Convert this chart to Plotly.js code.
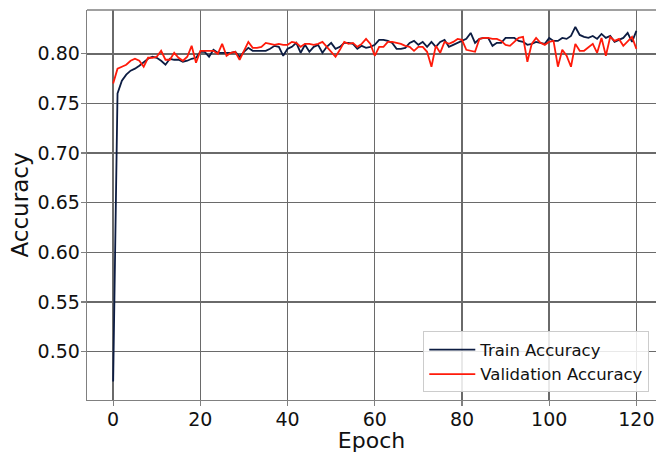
<!DOCTYPE html>
<html>
<head>
<meta charset="utf-8">
<script src="https://cdn.plot.ly/plotly-3.0.1.min.js"></script>
<style>html,body{margin:0;padding:0;background:#fff;}#chart{width:656px;height:453px;}</style>
</head>
<body>
<div id="chart"></div>
<script>
const epochs = Array.from({length: 121}, (_, i) => i);

const trainAccuracy = [
  0.470, 0.760, 0.773, 0.779, 0.783, 0.785, 0.788, 0.792, 0.795, 0.797,
  0.796, 0.793, 0.789, 0.795, 0.794, 0.794, 0.792, 0.793, 0.795, 0.796,
  0.802, 0.802, 0.797, 0.804, 0.801, 0.801, 0.801, 0.801, 0.802, 0.797,
  0.802, 0.806, 0.803, 0.803, 0.803, 0.803, 0.805, 0.808, 0.807, 0.798,
  0.805, 0.807, 0.811, 0.801, 0.809, 0.802, 0.807, 0.809, 0.801, 0.807,
  0.811, 0.805, 0.807, 0.811, 0.811, 0.810, 0.805, 0.808, 0.806, 0.807,
  0.809, 0.814, 0.814, 0.813, 0.811, 0.805, 0.805, 0.806, 0.811, 0.813,
  0.809, 0.812, 0.807, 0.812, 0.807, 0.812, 0.814, 0.807, 0.809, 0.811,
  0.813, 0.815, 0.821, 0.811, 0.815, 0.816, 0.816, 0.808, 0.811, 0.811,
  0.816, 0.816, 0.816, 0.813, 0.812, 0.809, 0.810, 0.812, 0.811, 0.810,
  0.816, 0.813, 0.813, 0.816, 0.815, 0.818, 0.827, 0.819, 0.817, 0.816,
  0.818, 0.815, 0.820, 0.816, 0.818, 0.812, 0.814, 0.816, 0.821, 0.812,
  0.823
];

const validationAccuracy = [
  0.770, 0.785, 0.787, 0.789, 0.793, 0.795, 0.793, 0.787, 0.796, 0.796,
  0.797, 0.803, 0.794, 0.794, 0.801, 0.796, 0.793, 0.797, 0.808, 0.791,
  0.803, 0.803, 0.803, 0.803, 0.800, 0.810, 0.798, 0.801, 0.802, 0.794,
  0.803, 0.812, 0.806, 0.806, 0.807, 0.811, 0.810, 0.809, 0.810, 0.809,
  0.809, 0.812, 0.811, 0.807, 0.810, 0.810, 0.809, 0.810, 0.812, 0.807,
  0.802, 0.797, 0.804, 0.812, 0.810, 0.811, 0.807, 0.810, 0.815, 0.810,
  0.798, 0.807, 0.807, 0.812, 0.812, 0.811, 0.810, 0.808, 0.807, 0.803,
  0.807, 0.807, 0.802, 0.787, 0.808, 0.801, 0.812, 0.810, 0.812, 0.815,
  0.814, 0.804, 0.803, 0.802, 0.815, 0.816, 0.816, 0.815, 0.815, 0.813,
  0.809, 0.808, 0.812, 0.816, 0.817, 0.792, 0.810, 0.816, 0.811, 0.809,
  0.812, 0.813, 0.787, 0.804, 0.798, 0.787, 0.810, 0.803, 0.803, 0.807,
  0.810, 0.801, 0.816, 0.798, 0.817, 0.813, 0.815, 0.808, 0.813, 0.817,
  0.805
];

const seriesNames = ['Train Accuracy', 'Validation Accuracy'];
const xTickValues = [0, 20, 40, 60, 80, 100, 120];
const yTickValues = [0.50, 0.55, 0.60, 0.65, 0.70, 0.75, 0.80];

const font = 'DejaVu Sans, Verdana, sans-serif';

const traces = [
  {x: epochs, y: trainAccuracy, name: seriesNames[0], type: 'scatter', mode: 'lines',
   line: {color: '#0c1c42', width: 1.8}},
  {x: epochs, y: validationAccuracy, name: seriesNames[1], type: 'scatter', mode: 'lines',
   line: {color: '#ff1a0a', width: 1.8}}
];

const layout = {
  width: 656, height: 453,
  margin: {l: 87, r: 0, t: 10, b: 53},
  paper_bgcolor: '#ffffff', plot_bgcolor: '#ffffff',
  font: {family: font, color: '#111', size: 18},
  showlegend: true,
  legend: {
    x: 0.591, y: 0.176, xanchor: 'left', yanchor: 'top',
    itemwidth: 46,
    bgcolor: 'rgba(255,255,255,0.85)', bordercolor: '#cccccc', borderwidth: 1,
    font: {family: font, size: 16.5, color: '#111'}
  },
  xaxis: {
    range: [-6, 124.5], tickvals: xTickValues, ticktext: xTickValues.map(String),
    showgrid: true, gridcolor: '#6a6a6a', gridwidth: 1.4,
    zeroline: false, showline: true, linecolor: '#808080', linewidth: 1.3, mirror: false,
    ticks: 'outside', ticklen: 5, tickcolor: '#808080', tickwidth: 1.3,
    ticklabelstandoff: -3,
    tickfont: {family: font, size: 19, color: '#111'},
    title: {text: 'Epoch', font: {family: font, size: 22, color: '#111'}, standoff: 4},
    automargin: false
  },
  yaxis: {
    range: [0.4514, 0.8441], tickvals: yTickValues, ticktext: yTickValues.map(v => v.toFixed(2)),
    showgrid: true, gridcolor: '#6a6a6a', gridwidth: 1.4,
    zeroline: false, showline: true, linecolor: '#808080', linewidth: 1.3, mirror: false,
    ticks: 'outside', ticklen: 5, tickcolor: '#808080', tickwidth: 1.3,
    ticklabelstandoff: -3,
    tickfont: {family: font, size: 19, color: '#111'},
    title: {text: 'Accuracy', font: {family: font, size: 23, color: '#111'}, standoff: 2},
    automargin: false
  },
  shapes: [
    {type: 'line', xref: 'paper', yref: 'paper', x0: 0, x1: 1, y0: 1, y1: 1,
     line: {color: '#808080', width: 1.3}}
  ]
};

Plotly.newPlot('chart', traces, layout, {displayModeBar: false, staticPlot: true});
</script>
</body>
</html>
